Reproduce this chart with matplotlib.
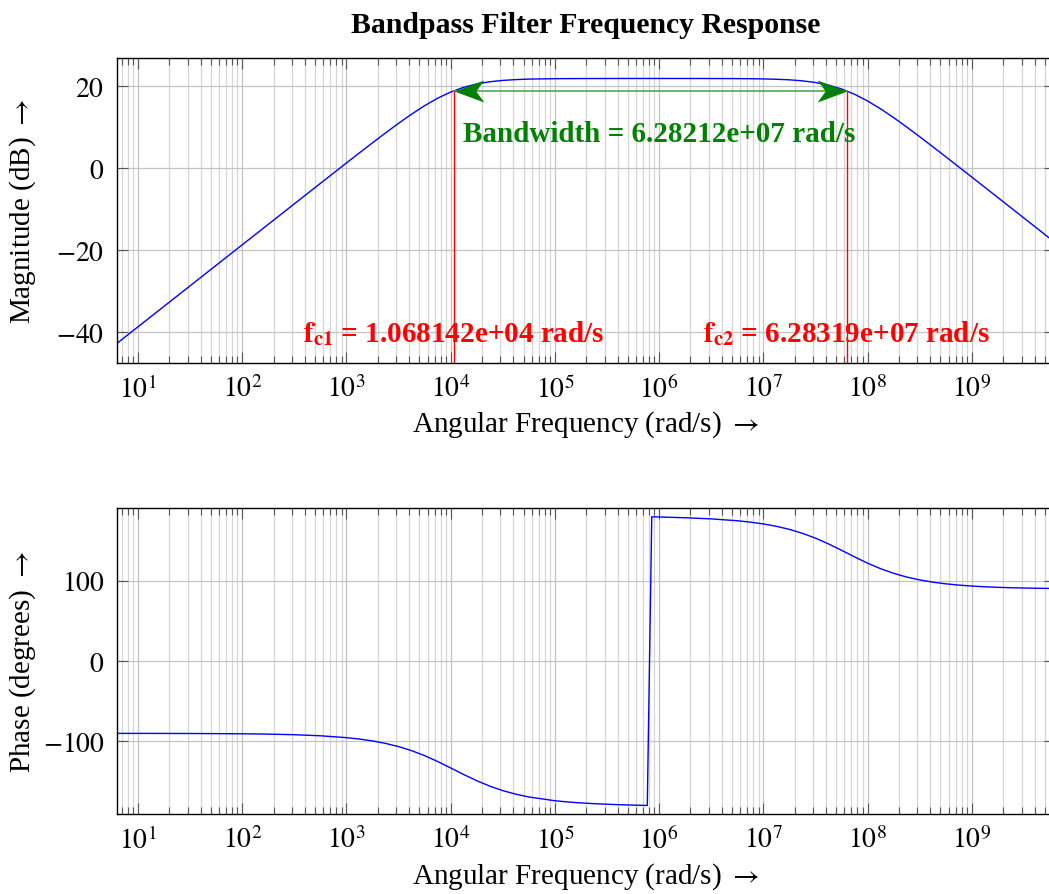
import math
import matplotlib
matplotlib.use('Agg')
import matplotlib.pyplot as plt
from matplotlib.path import Path
from matplotlib.ticker import FixedLocator, FuncFormatter, LogLocator, MultipleLocator, NullFormatter

plt.rcParams['font.family'] = ['Liberation Serif', 'DejaVu Serif']
plt.rcParams['mathtext.fontset'] = 'stix'
plt.rcParams['font.size'] = 20

# sampled response of the band-pass stage
omega = [6.28, 10, 31.6, 100, 178, 316, 562, 1000, 1330, 1780, 2370, 3160, 4220,
         5620, 7500, 1.0e4, 1.33e4, 1.78e4, 2.37e4, 3.16e4, 4.22e4, 5.62e4, 1.0e5,
         1.33e5, 1.78e5, 2.37e5, 3.16e5, 4.22e5, 5.62e5, 7.7e5, 8.5e5, 1.0e6,
         1.78e6, 3.16e6, 5.62e6, 7.5e6, 1.0e7, 1.33e7, 1.78e7, 2.37e7, 3.16e7,
         4.22e7, 5.62e7, 7.5e7, 1.0e8, 1.33e8, 1.78e8, 2.37e8, 3.16e8, 4.22e8,
         5.62e8, 7.5e8, 1.0e9, 1.33e9, 1.78e9, 2.37e9, 3.16e9, 4.22e9, 6.28e9]
magnitude_db = [-42.71, -38.67, -28.68, -18.67, -13.67, -8.68, -3.69, 1.29, 3.74,
                6.22, 8.61, 10.96, 13.20, 15.26, 17.09, 18.59, 19.74, 20.56, 21.10,
                21.43, 21.63, 21.75, 21.85, 21.87, 21.88, 21.89, 21.89, 21.90,
                21.90, 21.90, 21.90, 21.90, 21.90, 21.89, 21.87, 21.84, 21.79,
                21.71, 21.57, 21.32, 20.92, 20.28, 19.35, 18.05, 16.42, 14.51,
                12.35, 10.07, 7.70, 5.26, 2.82, 0.33, -2.15, -4.62, -7.15, -9.63,
                -12.13, -14.64, -18.10]
phase_deg = [-90.03, -90.05, -90.17, -90.54, -90.95, -91.70, -93.01, -95.35,
             -97.10, -99.46, -102.51, -106.48, -111.56, -117.75, -125.08, -133.13,
             -141.24, -149.05, -155.76, -161.36, -165.84, -169.29, -173.99,
             -175.53, -176.73, -177.64, -178.35, -178.94, -179.42, -179.91,
             179.95, 179.70, 178.72, 177.32, 175.00, 173.28, 171.02, 168.10,
             164.22, 159.36, 153.32, 146.13, 138.20, 129.96, 122.15, 115.29,
             109.44, 104.85, 101.25, 98.47, 96.38, 94.79, 93.60, 92.70, 92.02,
             91.52, 91.14, 90.85, 90.57]
decades = [1, 2, 3, 4, 5, 6, 7, 8, 9]

fc1 = 1.068142e4
fc2 = 6.28319e7
bandwidth = 6.28212e7
cutoff_db = 18.9

fig = plt.figure(figsize=(10.49, 8.95), dpi=100)
ax1 = fig.add_axes([0.1115, 0.5933, 0.8942, 0.3408])
ax2 = fig.add_axes([0.1115, 0.0894, 0.8942, 0.3419])

arrow_txt = r'$\rightarrow$'


def style(ax, label_y):
    ax.set_xscale('log')
    ax.set_xlim(6.283, 6.283e9)
    ax.xaxis.set_major_locator(FixedLocator([10.0 ** d for d in decades]))
    ax.xaxis.set_major_formatter(FuncFormatter(lambda v, p: r'$10^{%d}$' % round(math.log10(v))))
    ax.xaxis.set_minor_locator(LogLocator(base=10, subs=range(2, 10), numticks=100))
    ax.xaxis.set_minor_formatter(NullFormatter())
    ax.yaxis.set_major_formatter(FuncFormatter(lambda v, p: r'$\mathrm{%d}$' % v))
    ax.grid(True, which='major', color='#c4c4c4', lw=0.9)
    ax.grid(True, which='minor', axis='x', color='#d6d6d6', lw=0.9)
    ax.set_axisbelow(True)
    ax.tick_params(which='both', direction='in', top=True, right=True,
                   color='#555555', width=0.8)
    ax.tick_params(which='major', length=8, pad=9)
    ax.tick_params(which='minor', length=5)
    for s in ax.spines.values():
        s.set_color('black')
        s.set_linewidth(1.0)
    ax.set_xlabel('Angular Frequency (rad/s) ' + arrow_txt, fontsize=21)
    ax.xaxis.set_label_coords(0.5, -0.15)
    ax.yaxis.set_label_coords(-0.084, label_y)


style(ax1, 0.468)
ax1.set_ylim(-47.5, 26.9)
ax1.yaxis.set_major_locator(MultipleLocator(20))
ax1.plot(omega, magnitude_db, color='blue', lw=1.0)
ax1.set_ylabel('Magnitude (dB) ' + arrow_txt, fontsize=21)
ax1.set_title('Bandpass Filter Frequency Response', fontweight='bold', fontsize=21.4, pad=19)

# cutoff markers
ax1.plot([fc1, fc1], [-47.5, cutoff_db], color='red', lw=1.0)
ax1.plot([fc2, fc2], [-47.5, cutoff_db], color='red', lw=1.0)
ax1.text(fc1, -40, r'$\mathbf{f}_{\mathbf{c1}}$ = 1.068142e+04 rad/s', color='red',
         fontweight='bold', fontsize=21, ha='center', va='center')
ax1.text(fc2, -40, r'$\mathbf{f}_{\mathbf{c2}}$ = 6.28319e+07 rad/s', color='red',
         fontweight='bold', fontsize=21, ha='center', va='center')

# bandwidth arrow
head_r = Path([(0, 0), (-1, 0.37), (-0.73, 0), (-1, -0.37), (0, 0)],
              [Path.MOVETO, Path.LINETO, Path.LINETO, Path.LINETO, Path.CLOSEPOLY])
head_l = Path([(0, 0), (1, 0.37), (0.73, 0), (1, -0.37), (0, 0)],
              [Path.MOVETO, Path.LINETO, Path.LINETO, Path.LINETO, Path.CLOSEPOLY])
ax1.plot([fc1, fc2], [cutoff_db, cutoff_db], color='#55a555', lw=1.2)
ax1.plot([fc2], [cutoff_db], marker=head_r, ms=43, color='#008000', mew=0)
ax1.plot([fc1], [cutoff_db], marker=head_l, ms=43, color='#008000', mew=0)
ax1.text(1.0e6, 8.6, 'Bandwidth = %.5e rad/s' % bandwidth, color='#008000',
         fontweight='bold', fontsize=21, ha='center', va='center')

style(ax2, 0.475)
ax2.set_ylim(-190.5, 190.9)
ax2.yaxis.set_major_locator(MultipleLocator(100))
ax2.plot(omega, phase_deg, color='blue', lw=1.0)
ax2.set_ylabel('Phase (degrees) ' + arrow_txt, fontsize=21)

fig.savefig('out.png', dpi=100)
